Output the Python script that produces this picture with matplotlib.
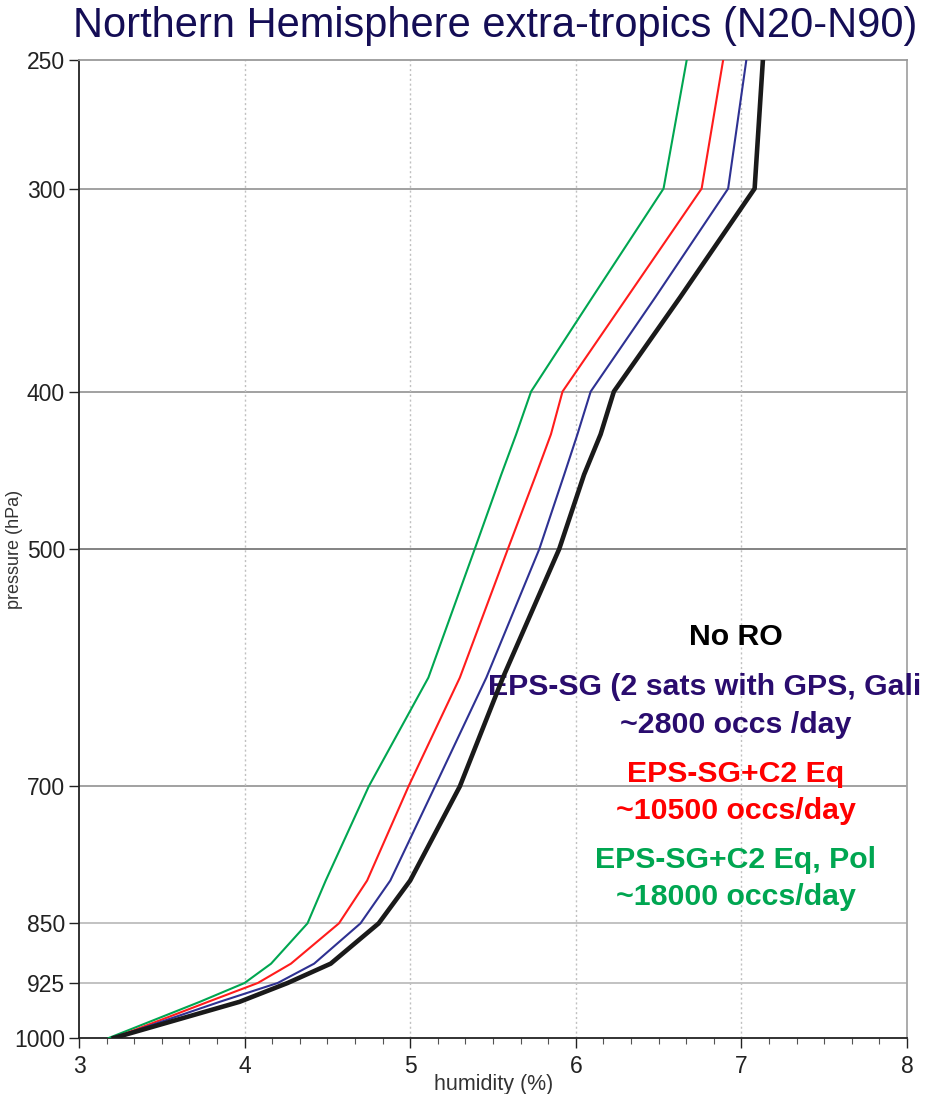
import matplotlib.pyplot as plt
import numpy as np
from matplotlib.ticker import FixedLocator, NullLocator, MultipleLocator, FixedFormatter

# Data: humidity (%) profiles against pressure (hPa)
pressure = [250, 300, 350, 400, 425, 450, 500, 600, 700, 800, 850, 900, 925, 950, 1000]
no_ro = [7.13, 7.08, 6.63, 6.23, 6.15, 6.05, 5.90, 5.56, 5.30, 5.00, 4.81, 4.52, 4.26, 3.97, 3.21]
eps_sg = [7.03, 6.92, 6.48, 6.09, 6.01, 5.93, 5.78, 5.46, 5.15, 4.88, 4.70, 4.42, 4.20, 3.85, 3.21]
eps_c2_eq = [6.89, 6.76, 6.31, 5.92, 5.85, 5.76, 5.59, 5.30, 4.99, 4.74, 4.57, 4.28, 4.08, 3.78, 3.21]
eps_c2_eq_pol = [6.67, 6.53, 6.10, 5.73, 5.64, 5.55, 5.39, 5.11, 4.75, 4.49, 4.38, 4.16, 4.00, 3.73, 3.18]

p_ticks = [250, 300, 400, 500, 700, 850, 925, 1000]

plt.rcParams['font.family'] = ['Liberation Sans', 'DejaVu Sans']

fig = plt.figure(figsize=(9.27, 10.94), dpi=100)
ax = fig.add_axes([0.0852, 0.0512, 0.8932, 0.894])

# grid lines
for p in p_ticks[1:-1]:
    c = '#7a7a7a' if p == 500 else ('#bdbdbd' if p in (850, 925) else '#9a9a9a')
    ax.axhline(p, color=c, lw=1.3, zorder=1)
for x in [4, 5, 6, 7]:
    ax.axvline(x, color='#c0c0c0', lw=1.0, ls=(0, (1.5, 2)), zorder=1)

ax.plot(eps_c2_eq_pol, pressure, color='#00a651', lw=1.5, zorder=3)
ax.plot(eps_c2_eq, pressure, color='#ff1c1c', lw=1.5, zorder=3)
ax.plot(eps_sg, pressure, color='#2e3192', lw=1.5, zorder=3)
ax.plot(no_ro, pressure, color='#1a1a1a', lw=3.3, zorder=4)

ax.set_yscale('log')
ax.set_ylim(1000, 250)
ax.set_xlim(3, 8)
ax.yaxis.set_major_locator(FixedLocator(p_ticks))
ax.yaxis.set_major_formatter(FixedFormatter([str(p) for p in p_ticks]))
ax.yaxis.set_minor_locator(NullLocator())
ax.xaxis.set_major_locator(MultipleLocator(1))
ax.xaxis.set_minor_locator(MultipleLocator(1 / 6))

ax.tick_params(axis='both', which='major', labelsize=16.5, colors='#222222',
               length=7, width=1.0, direction='out')
ax.tick_params(axis='x', which='minor', length=4, width=0.8, color='#555555')
ax.tick_params(axis='y', pad=3)
ax.tick_params(axis='x', pad=5)

ax.spines['left'].set_color('#222222')
ax.spines['bottom'].set_color('#222222')
ax.spines['top'].set_color('#9a9a9a')
ax.spines['right'].set_color('#a5a5a5')
for s in ax.spines.values():
    s.set_linewidth(1.3)

ax.set_xlabel('humidity (%)', fontsize=15.5, color='#333333')
ax.xaxis.set_label_coords(0.501, -0.037)
ax.set_ylabel('pressure (hPa)', fontsize=13, color='#333333')
ax.yaxis.set_label_coords(-0.068, 0.5)
fig.text(0.5345, 0.9662, 'Northern Hemisphere extra-tropics (N20-N90)',
         ha='center', va='baseline', fontsize=30, color='#140d55')

# annotations
cx = 0.793
tfont = dict(fontsize=21.8, fontweight='bold', va='baseline', transform=ax.transAxes)
ax.text(cx, 0.4018, 'No RO', ha='center', color='black', **tfont)
ax.text(0.494, 0.3507, 'EPS-SG (2 sats with GPS, Gali', ha='left', color='#2a0c6e',
        clip_on=False, **tfont)
ax.text(cx, 0.3119, '~2800 occs /day', ha='center', color='#2a0c6e', **tfont)
ax.text(cx, 0.2618, 'EPS-SG+C2 Eq', ha='center', color='#ff0000', **tfont)
ax.text(cx, 0.2239, '~10500 occs/day', ha='center', color='#ff0000', **tfont)
ax.text(cx, 0.1738, 'EPS-SG+C2 Eq, Pol', ha='center', color='#00a651', **tfont)
ax.text(cx, 0.1360, '~18000 occs/day', ha='center', color='#00a651', **tfont)

plt.savefig('out.png', dpi=100)
